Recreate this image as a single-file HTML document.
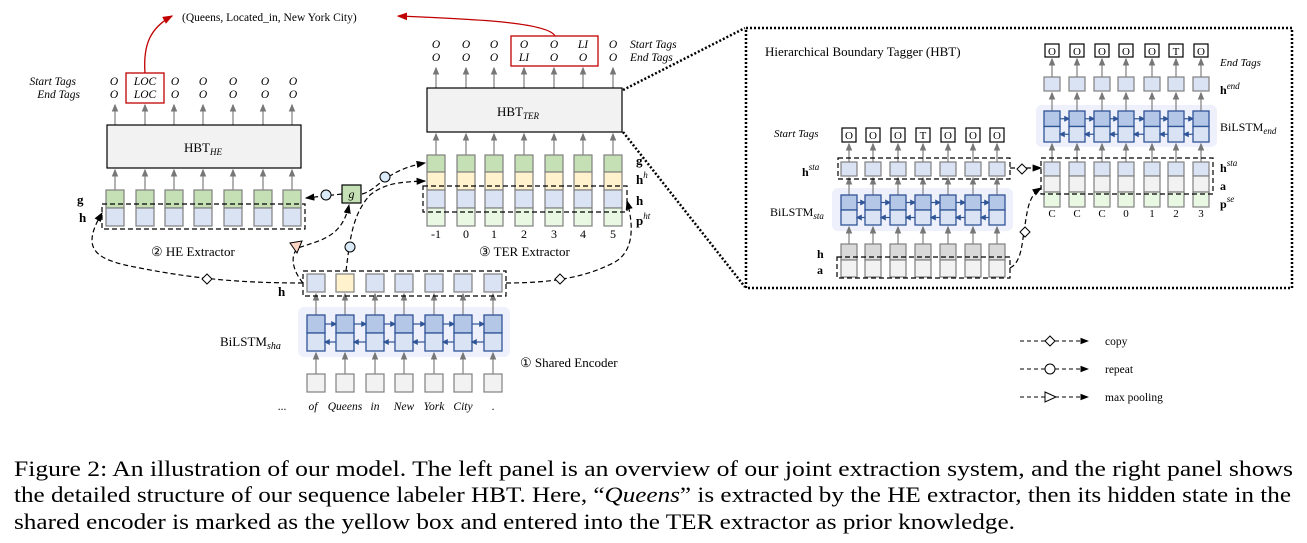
<!DOCTYPE html>
<html><head><meta charset="utf-8"><style>
html,body{margin:0;padding:0;background:#fff;}
svg{display:block;font-family:"Liberation Serif",serif;}
</style></head><body>
<svg id="s" width="1307" height="543" viewBox="0 0 1307 543" xmlns="http://www.w3.org/2000/svg">
<defs>
<marker id="ga" markerWidth="6" markerHeight="6" refX="5" refY="3" orient="auto"><path d="M0,0.5 L6,3 L0,5.5z" fill="#777"/></marker>
<marker id="ka" markerWidth="8" markerHeight="6" refX="7" refY="3" orient="auto"><path d="M0,0 L8,3 L0,6z" fill="#000"/></marker>
<marker id="ra" markerWidth="8" markerHeight="6" refX="7" refY="3" orient="auto"><path d="M0,0 L8,3 L0,6z" fill="#c00000"/></marker>
</defs>
<g id="shapes"></g>

<!-- red curves & triple -->
<path d="M145,73 C143,45 150,28 172,16" fill="none" stroke="#c00000" stroke-width="1.3" marker-end="url(#ra)"/>
<path d="M555,36 C548,22 470,19 398,16" fill="none" stroke="#c00000" stroke-width="1.3" marker-end="url(#ra)"/>
<text x="182" y="21" font-size="11.5">(Queens,  Located_in,  New York City)</text>

<!-- HE tags -->
<g font-size="11.5" font-style="italic" text-anchor="middle">
<text x="76" y="85" text-anchor="end">Start Tags</text><text x="80" y="98" text-anchor="end">End Tags</text>
<text x="114" y="85">O</text><text x="114" y="98">O</text>
<text x="145" y="85">LOC</text><text x="145" y="98">LOC</text>
<text x="175" y="85">O</text><text x="175" y="98">O</text>
<text x="203" y="85">O</text><text x="203" y="98">O</text>
<text x="233" y="85">O</text><text x="233" y="98">O</text>
<text x="265" y="85">O</text><text x="265" y="98">O</text>
<text x="293" y="85">O</text><text x="293" y="98">O</text>
<!-- TER tags -->
<text x="436" y="48">O</text><text x="436" y="61">O</text>
<text x="466" y="48">O</text><text x="466" y="61">O</text>
<text x="494" y="48">O</text><text x="494" y="61">O</text>
<text x="524" y="48">O</text><text x="524" y="61">LI</text>
<text x="554" y="48">O</text><text x="554" y="61">O</text>
<text x="583" y="48">LI</text><text x="583" y="61">O</text>
<text x="613" y="48">O</text><text x="613" y="61">O</text>
<text x="630" y="48" text-anchor="start">Start Tags</text><text x="630" y="61" text-anchor="start">End Tags</text>
</g>
<rect x="126" y="73" width="38" height="30" fill="none" stroke="#c00000" stroke-width="1.3"/>
<rect x="511" y="36" width="87" height="30" fill="none" stroke="#c00000" stroke-width="1.3"/>

<!-- HBT boxes -->
<rect x="107" y="125" width="194" height="43" fill="#f2f2f2" stroke="#000" stroke-width="1.2"/>
<text x="184" y="152" font-size="13">HBT<tspan font-size="9" font-style="italic" dy="3">HE</tspan></text>
<rect x="427" y="88" width="195" height="44" fill="#f2f2f2" stroke="#000" stroke-width="1.2"/>
<text x="497" y="116" font-size="13">HBT<tspan font-size="9" font-style="italic" dy="3">TER</tspan></text>

<!-- labels left -->
<g font-size="13" font-weight="bold">
<text x="77" y="204">g</text><text x="79" y="222">h</text>
<text x="278" y="296">h</text>
<text x="636" y="165">g</text><text x="636" y="184">h<tspan font-size="9" font-style="italic" font-weight="normal" dy="-6">h</tspan></text>
<text x="636" y="205">h</text><text x="636" y="225">p<tspan font-size="9" font-style="italic" font-weight="normal" dy="-6">ht</tspan></text>
</g>
<g font-size="12" text-anchor="middle">
<text x="436" y="238">-1</text><text x="466" y="238">0</text><text x="494" y="238">1</text><text x="524" y="238">2</text><text x="554" y="238">3</text><text x="583" y="238">4</text><text x="613" y="238">5</text>
</g>
<text x="151" y="256" font-size="13">② HE Extractor</text>
<text x="479" y="256" font-size="13">③ TER Extractor</text>
<text x="520" y="367" font-size="13">① Shared Encoder</text>
<text x="220" y="346" font-size="13">BiLSTM<tspan font-size="10" font-style="italic" dy="3">sha</tspan></text>
<g font-size="11.5" font-style="italic" text-anchor="middle">
<text x="282" y="410" font-style="normal">...</text>
<text x="313" y="410">of</text><text x="345" y="410">Queens</text><text x="375" y="410">in</text><text x="404" y="410">New</text><text x="434" y="410">York</text><text x="463" y="410">City</text><text x="493" y="410" font-style="normal">.</text>
</g>
<!-- g box -->
<rect x="342" y="185" width="19" height="18" fill="#c5e0b4" stroke="#000" stroke-width="1.2"/>
<text x="351.5" y="198" font-size="12" font-style="italic" text-anchor="middle">g</text>

<!-- dashed connectors left -->
<g fill="none" stroke="#000" stroke-width="1.2" stroke-dasharray="5,3">
<path d="M342,194 L306,198" marker-end="url(#ka)"/>
<path d="M362,194 C378,190 385,170 425,163" marker-end="url(#ka)"/>
<path d="M303,283 C292,270 290,255 298,248 C320,240 342,238 349,205" marker-end="url(#ka)"/>
<path d="M346,271 C350,240 352,215 370,195 C385,183 400,182 425,181" marker-end="url(#ka)"/>
<path d="M303,283 C250,283 200,280 140,268 C95,260 80,250 102,213" marker-end="url(#ka)"/>
<path d="M506,283 C560,283 590,275 615,262 C632,252 635,230 627,201" marker-end="url(#ka)"/>
<path d="M1010,168 L1041,168" marker-end="url(#ka)"/>
<path d="M1010,268 C1022,262 1022,242 1025,225 C1028,205 1030,195 1041,188" marker-end="url(#ka)"/>
</g>
<g stroke="#000" stroke-width="1">
<circle cx="326" cy="195" r="5" fill="#dbeaf7"/>
<circle cx="385" cy="177" r="5" fill="#dbeaf7"/>
<circle cx="350" cy="247" r="5" fill="#dbeaf7"/>
<path d="M290,243 L302,241 L297,253z" fill="#fbd5c4"/>
<path d="M207,274 L212,279 L207,284 L202,279z" fill="#fff"/>
<path d="M560,274 L565,279 L560,284 L555,279z" fill="#fff"/>
<path d="M1022,164 L1027,169 L1022,174 L1017,169z" fill="#fff"/>
<path d="M1025,227 L1030,232 L1025,237 L1020,232z" fill="#fff"/>
</g>

<!-- dotted zoom lines -->
<g stroke="#000" stroke-width="2.5" stroke-dasharray="2,2" fill="none">
<path d="M623,90 L745,28"/><path d="M623,132 L745,287"/>
<rect x="746" y="28" width="546" height="260"/>
</g>

<!-- right panel text -->
<text x="765" y="56" font-size="13">Hierarchical  Boundary Tagger (HBT)</text>
<g font-size="11" font-style="italic">
<text x="1220" y="66">End Tags</text>
<text x="774" y="137">Start Tags</text>
</g>
<g font-size="11" text-anchor="middle">
<text x="1052" y="55">O</text><text x="1077" y="55">O</text><text x="1102" y="55">O</text><text x="1126" y="55">O</text><text x="1152" y="55">O</text><text x="1176" y="55">T</text><text x="1201" y="55">O</text>
<text x="849" y="139">O</text><text x="873" y="139">O</text><text x="898" y="139">O</text><text x="923" y="139">T</text><text x="948" y="139">O</text><text x="973" y="139">O</text><text x="997" y="139">O</text>
<text x="1052" y="217">C</text><text x="1077" y="217">C</text><text x="1102" y="217">C</text><text x="1126" y="217">0</text><text x="1152" y="217">1</text><text x="1176" y="217">2</text><text x="1201" y="217">3</text>
</g>
<g font-size="12" font-weight="bold">
<text x="1220" y="94">h<tspan font-size="9" font-style="italic" font-weight="normal" dy="-5">end</tspan></text>
<text x="1220" y="172">h<tspan font-size="9" font-style="italic" font-weight="normal" dy="-6">sta</tspan></text>
<text x="1220" y="190">a</text>
<text x="1220" y="208">p<tspan font-size="9" font-style="italic" font-weight="normal" dy="-6">se</tspan></text>
<text x="802" y="176">h<tspan font-size="9" font-style="italic" font-weight="normal" dy="-6">sta</tspan></text>
<text x="817" y="258">h</text><text x="817" y="274">a</text>
</g>
<text x="1220" y="131" font-size="12">BiLSTM<tspan font-size="9" font-style="italic" dy="3">end</tspan></text>
<text x="770" y="216" font-size="12">BiLSTM<tspan font-size="9" font-style="italic" dy="3">sta</tspan></text>

<!-- legend -->
<g fill="none" stroke="#000" stroke-width="1.1" stroke-dasharray="4,3">
<path d="M1020,341 L1088,341" marker-end="url(#ka)"/>
<path d="M1020,369 L1088,369" marker-end="url(#ka)"/>
<path d="M1020,397 L1088,397" marker-end="url(#ka)"/>
</g>
<g stroke="#000" fill="#fff">
<path d="M1050,336 L1055,341 L1050,346 L1045,341z"/>
<circle cx="1050" cy="369" r="5"/>
<path d="M1045,392 L1056,397 L1045,402z"/>
</g>
<g font-size="11.5"><text x="1105" y="345">copy</text><text x="1105" y="373">repeat</text><text x="1105" y="401">max pooling</text></g>

<!-- caption -->
<g font-size="22">
<text x="14" y="476" textLength="1279" lengthAdjust="spacingAndGlyphs">Figure 2: An illustration of our model. The left panel is an overview of our joint extraction system, and the right panel shows</text>
<text x="14" y="502" textLength="1277" lengthAdjust="spacingAndGlyphs">the detailed structure of our sequence labeler HBT. Here, “<tspan font-style="italic">Queens</tspan>” is extracted by the HE extractor, then its hidden state in the</text>
<text x="14" y="529" textLength="1001" lengthAdjust="spacingAndGlyphs">shared encoder is marked as the yellow box and entered into the TER extractor as prior knowledge.</text>
</g>
</svg>
<script>
var NS="http://www.w3.org/2000/svg",G=document.getElementById("shapes");
function el(t,a){var e=document.createElementNS(NS,t);for(var k in a)e.setAttribute(k,a[k]);G.appendChild(e);return e;}
function rect(x,y,w,h,f,s,sw,extra){var a={x:x,y:y,width:w,height:h,fill:f,stroke:s||"#808080","stroke-width":sw||1.2};for(var k in extra)a[k]=extra[k];return el("rect",a);}
function arrow(x,y1,y2){el("line",{x1:x,y1:y1,x2:x,y2:y2+2,stroke:"#888","stroke-width":1.3,"marker-end":"url(#ga)"});}
function dbox(x,y,w,h){rect(x,y,w,h,"none","#000",1.2,{"stroke-dasharray":"5,3"});}
function bilstm(xs,y1,y2,w){var m=(y1+y2)/2;for(var i=0;i<xs.length;i++){var x=xs[i]-w/2;rect(x,y1,w,m-y1,"#b4c7e7","#2f5597",1.3);rect(x,m,w,y2-m,"#dae3f3","#2f5597",1.3);
 if(i<xs.length-1){var a=xs[i]+w/2,b=xs[i+1]-w/2;el("line",{x1:a,y1:(y1+m)/2,x2:b,y2:(y1+m)/2,stroke:"#2f5597","stroke-width":1.2,"marker-end":"url(#ba)"});el("line",{x1:b,y1:(m+y2)/2,x2:a,y2:(m+y2)/2,stroke:"#2f5597","stroke-width":1.2,"marker-end":"url(#ba)"});}}}
var d=document.querySelector("defs");d.insertAdjacentHTML("beforeend",'<marker id="ba" markerWidth="5" markerHeight="5" refX="4" refY="2.5" orient="auto"><path d="M0,0 L5,2.5 L0,5z" fill="#2f5597"/></marker>');
// shared encoder
var S=[316,345,375,404,434,463,493];
el("rect",{x:298,y:307,width:212,height:50,rx:6,fill:"#eef0fb"});
S.forEach(function(x,i){rect(x-9,374,18,18,"#f2f2f2");arrow(x,374,351);arrow(x,315,292);rect(x-9,274,18,18,i==1?"#fff2cc":"#dae3f3");});
bilstm(S,315,351,18);
dbox(303,271,203,25);
// HE
var H=[115,145,174,203,233,263,292];
H.forEach(function(x){rect(x-9,190,18,18,"#c5e0b4");rect(x-9,208,18,18,"#dae3f3");arrow(x,190,168);arrow(x,125,103);});
dbox(102,204,203,25);
// TER
var T=[436,466,494,524,554,583,613];
T.forEach(function(x){rect(x-9,155,18,17,"#c5e0b4");rect(x-9,172,18,18,"#fff2cc");rect(x-9,190,18,18,"#dae3f3");rect(x-9,208,18,18,"#e9f8e3");arrow(x,155,132);arrow(x,88,66);});
dbox(423,186,204,26);
// right panel end
var E=[1052,1077,1102,1126,1152,1176,1201];
el("rect",{x:1036,y:105,width:181,height:42,rx:6,fill:"#eef0fb"});
E.forEach(function(x){rect(x-7,44,14,13,"#fff","#000",1.2);arrow(x,77,57);rect(x-8,77,16,14,"#dae3f3");arrow(x,111,91);arrow(x,162,142);
 rect(x-8,162,16,14,"#dae3f3");rect(x-8,176,16,16,"#f2f2f2");rect(x-8,192,16,15,"#e9f8e3");});
bilstm(E,111,142,16);
dbox(1041,158,172,36);
// right panel sta
var L=[849,873,898,923,948,973,997];
el("rect",{x:832,y:188,width:181,height:43,rx:6,fill:"#eef0fb"});
L.forEach(function(x){rect(x-7,128,14,14,"#fff","#000",1.2);arrow(x,162,142);rect(x-8,162,16,14,"#dae3f3");arrow(x,195,176);arrow(x,244,225);
 rect(x-8,244,16,16,"#d9d9d9");rect(x-8,260,16,17,"#f2f2f2");});
bilstm(L,195,225,16);
dbox(838,158,172,21);
dbox(837,257,173,21);
</script>
</body></html>
